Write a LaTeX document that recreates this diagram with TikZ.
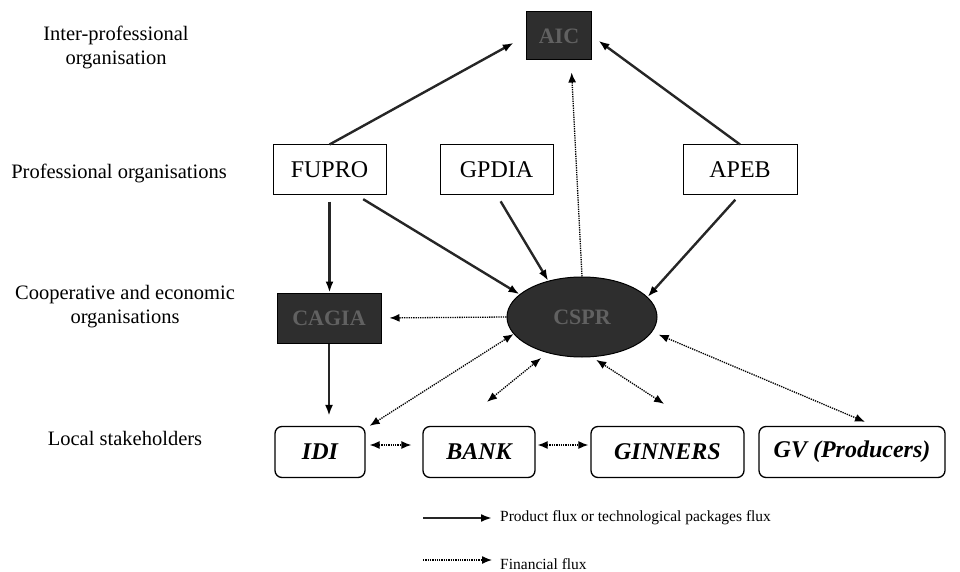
\documentclass[tikz,border=0pt]{standalone}
\usepackage{fontspec}
\setmainfont{Liberation Serif}
\usetikzlibrary{arrows.meta,shapes.geometric}
\begin{document}
\begin{tikzpicture}[x=1pt,y=-1pt,
  lab/.style={align=center,font=\fontsize{20.5}{24}\selectfont},
  orgbox/.style={draw,line width=1pt,minimum height=49pt,inner sep=0pt,font=\fontsize{24}{28}\selectfont},
  darkbox/.style={draw,fill=black!82,text=black!62,line width=1pt,inner sep=0pt,font=\fontsize{22}{26}\selectfont\bfseries},
  localbox/.style={draw,line width=1.3pt,rounded corners=7pt,minimum height=51pt,inner sep=0pt,font=\fontsize{24}{28}\selectfont\bfseries\itshape},
  prod/.style={draw=black!85,line width=2.4pt,-{Latex[length=11pt,width=8pt,color=black]}},
  fin/.style={densely dotted,line width=1.3pt,-{Latex[length=10pt,width=8pt]}},
  finboth/.style={densely dotted,line width=1.3pt,{Latex[length=10pt,width=8pt]}-{Latex[length=10pt,width=8pt]}},
  legtext/.style={anchor=west,inner sep=0pt,font=\fontsize{15.5}{18}\selectfont}]
\useasboundingbox (0,0) rectangle (960,572);
% level labels
\node[lab] (l1) at (116,47) {Inter-professional\\organisation};
\node[lab] (l2) at (119,173) {Professional organisations};
\node[lab] (l3) at (125,307) {Cooperative and economic\\organisations};
\node[lab] (l4) at (125,438) {Local stakeholders};
% nodes
\node[darkbox,minimum width=65pt,minimum height=48pt] (aic) at (559,36) {AIC};
\node[orgbox,minimum width=113pt] (fupro) at (329.5,169.5) {FUPRO};
\node[orgbox,minimum width=113pt] (gpdia) at (496.5,169.5) {GPDIA};
\node[orgbox,minimum width=114pt] (apeb) at (740,169.5) {APEB};
\node[darkbox,minimum width=104pt,minimum height=50pt] (cagia) at (329,318) {CAGIA};
\node[darkbox,ellipse,minimum width=150pt,minimum height=80pt] (cspr) at (582,317) {CSPR};
\node[localbox,minimum width=90pt] (idi) at (320,452) {IDI};
\node[localbox,minimum width=112pt] (bank) at (479,452) {BANK};
\node[localbox,minimum width=153pt] (ginners) at (667.5,452) {GINNERS};
\node[localbox,minimum width=186pt] (gv) at (852,452) {GV (Producers)};
% product flux
\draw[prod,shorten >=14pt] (fupro.north) -- (aic.west);
\draw[prod,shorten >=8pt] (apeb.north) -- (aic.east);
\draw[prod,shorten <=7pt] (fupro.south) -- (fupro.south |- cagia.north);
\draw[prod,shorten >=10pt] (cagia.south) -- (cagia.south |- idi.north);
\draw[prod,shorten <=9pt] ([xshift=26pt]fupro.south) -- (cspr.160);
\draw[prod,shorten <=8pt] (gpdia.south) -- (cspr.133);
\draw[prod,shorten <=7pt] (apeb.south) -- (cspr.17);
% financial flux
\draw[fin,shorten >=12pt] (cspr.north) -- ([xshift=12pt]aic.south);
\draw[fin,shorten >=8pt] (cspr.west) -- (cagia.east);
\draw[finboth] ([xshift=4pt]idi.north east) -- (cspr.194);
\draw[finboth,shorten >=8pt] ([xshift=8pt,yshift=24pt]bank.north) -- (cspr.226);
\draw[finboth,shorten >=5pt] ([xshift=-3.5pt,yshift=22pt]ginners.north) -- (cspr.284);
\draw[finboth,shorten >=7pt] ([xshift=13pt,yshift=4pt]gv.north) -- (cspr.348);
\draw[finboth] ([xshift=4pt,yshift=7pt]idi.east) -- ([xshift=-11pt,yshift=7pt]bank.west);
\draw[finboth] ([xshift=2pt,yshift=7pt]bank.east) -- ([xshift=-2pt,yshift=7pt]ginners.west);
% legend
\coordinate (ls1) at (423,518);
\coordinate (le1) at (492,518);
\coordinate (ls2) at (423,560);
\coordinate (le2) at (492,560);
\draw[prod] (ls1) -- (le1);
\draw[fin] (ls2) -- (le2);
\node[legtext] (t1) at (500,518) {Product flux or technological packages flux};
\node[legtext] (t2) at (500,564) {Financial flux};
\end{tikzpicture}
\end{document}
